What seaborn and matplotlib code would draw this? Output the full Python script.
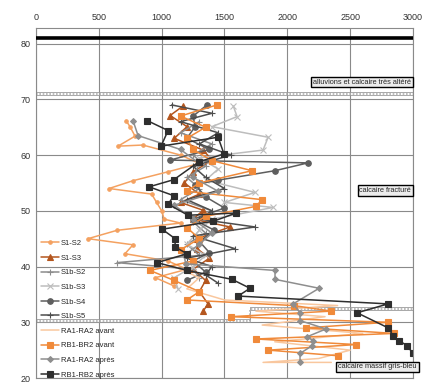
import numpy as np
import pandas as pd
import matplotlib
matplotlib.use("Agg")
import matplotlib.pyplot as plt
import seaborn as sns

# --- données (vitesse en x, cote en y) ---
s1_s2_x = [716, 748, 788, 653, 850, 1150, 1300, 1050, 772, 581, 920, 960, 1000, 1020, 1150, 645, 414, 772, 708, 1050, 1200, 950, 1100]
s1_s2_y = [66.2, 65.1, 63.4, 61.6, 61.8, 60.0, 58.5, 57.0, 55.4, 54.0, 53.0, 51.5, 50.0, 48.5, 47.8, 46.5, 45.0, 43.9, 42.3, 41.0, 39.5, 38.0, 36.5]

s1_s3_x = [1170, 1067, 1202, 1100, 1330, 1401, 1250, 1180, 1300, 1150, 1330, 1250, 1544, 1282, 1282, 1380, 1250, 1350, 1300, 1369, 1330]
s1_s3_y = [68.8, 67.1, 65.1, 63.0, 60.9, 59.1, 57.0, 55.0, 53.0, 51.5, 50.1, 48.5, 47.1, 45.0, 43.2, 41.5, 39.5, 37.5, 35.5, 33.3, 32.0]

s1b_s2_x = [1300, 1150, 1400, 1250, 1350, 1200, 1300, 1150, 1400, 1250, 1350, 1200, 1300, 645, 1250, 1300]
s1b_s2_y = [66.0, 64.0, 62.0, 60.0, 58.0, 56.0, 54.0, 52.0, 50.0, 48.0, 46.0, 44.0, 42.0, 40.7, 39.5, 38.0]

s1b_s3_x = [1570, 1600, 1400, 1847, 1807, 1300, 1450, 1350, 1743, 1500, 1887, 1400, 1300, 1200, 1350, 1250, 1100, 1130]
s1b_s3_y = [68.8, 66.9, 65.1, 63.2, 60.9, 59.5, 57.5, 55.5, 53.3, 51.5, 50.6, 48.5, 46.5, 44.0, 42.0, 40.0, 38.0, 36.0]

s1b_s4_x = [1361, 1250, 1266, 1200, 1380, 1067, 2165, 1902, 1450, 1266, 1350, 1500, 1250, 1420, 1300, 1380, 1250, 1350, 1200]
s1b_s4_y = [69.0, 67.0, 65.1, 63.0, 61.0, 59.1, 58.6, 57.2, 55.5, 54.7, 52.5, 50.5, 48.5, 46.5, 44.5, 42.5, 41.0, 39.0, 37.5]

s1b_s5_x = [1080, 1400, 1150, 1450, 1300, 1550, 1250, 1350, 1500, 1200, 1400, 1300, 1743, 1250, 1584, 1200, 1400, 1350, 1450]
s1b_s5_y = [69.0, 67.5, 66.0, 64.0, 62.0, 60.0, 58.0, 56.0, 54.0, 52.0, 50.0, 48.5, 47.1, 45.5, 43.2, 41.5, 40.0, 38.5, 37.0]

ra_avant_x = [1100, 1300, 1200, 1500, 2400, 1750, 2300, 1800, 2600, 1900, 2500, 2250, 1807, 2350]
ra_avant_y = [40.0, 38.0, 36.0, 34.0, 33.0, 32.0, 31.0, 29.5, 28.0, 26.5, 25.0, 23.5, 22.8, 22.8]

rb_avant_x = [1441, 1150, 1350, 1200, 1250, 1400, 1719, 1300, 1200, 1799, 1750, 1350, 1200, 1300, 1150, 1250, 907, 1100, 1300, 1200, 2050, 2350, 1550, 2800, 2150, 2850, 1750, 2550, 1850, 2400]
rb_avant_y = [69.0, 67.0, 65.0, 63.0, 61.0, 59.0, 57.2, 55.0, 53.5, 52.0, 50.8, 49.0, 47.0, 45.0, 43.0, 41.0, 39.3, 37.5, 35.5, 34.0, 33.0, 32.0, 31.0, 30.0, 29.0, 28.0, 27.0, 26.0, 25.0, 24.0]

ra_apres_x = [772, 812, 1150, 1300, 1250, 1450, 1100, 1250, 1400, 1300, 1180, 1190, 1902, 1902, 2253, 2046, 2101, 2101, 2308, 2157, 2205, 2197, 2101, 2101]
ra_apres_y = [66.2, 63.5, 61.0, 58.5, 56.0, 53.5, 51.0, 48.5, 46.0, 44.0, 42.0, 40.5, 39.3, 37.7, 36.1, 33.3, 31.7, 30.3, 28.8, 27.4, 26.7, 25.8, 24.4, 22.8]

rb_apres_x = [884, 1051, 995, 1449, 1496, 1297, 1098, 900, 1098, 1051, 1210, 1592, 1409, 1003, 1107, 1107, 1202, 963, 1202, 1560, 1703, 1608, 2802, 2555, 2802, 2842, 2889, 2953, 3000]
rb_apres_y = [66.2, 64.4, 61.6, 63.2, 60.2, 58.8, 55.6, 54.3, 52.7, 51.2, 49.2, 49.6, 48.1, 46.7, 45.0, 43.5, 42.3, 40.7, 39.3, 37.7, 36.1, 34.7, 33.3, 31.7, 29.0, 27.6, 26.7, 25.8, 24.4]

# limites des couches
limite_haut_x = [0, 3000]
limite_haut_y = [71.0, 71.0]
limite_bas_x = [0, 1700, 1700, 3000]
limite_bas_y = [30.3, 30.3, 32.4, 32.4]
niveau_sol = 81.0

couches = ["alluvions et calcaire très altéré", "calcaire fracturé", "calcaire massif gris-bleu"]
couches_y = [73.1, 53.6, 22.0]

series = [
    ("S1-S2", s1_s2_x, s1_s2_y, "#F4A160", "o", 2.5),
    ("S1-S3", s1_s3_x, s1_s3_y, "#B4561E", "^", 4.5),
    ("S1b-S2", s1b_s2_x, s1b_s2_y, "#8C8C8C", "+", 4),
    ("S1b-S3", s1b_s3_x, s1b_s3_y, "#BDBDBD", "x", 4),
    ("S1b-S4", s1b_s4_x, s1b_s4_y, "#5E5E5E", "o", 4),
    ("S1b-S5", s1b_s5_x, s1b_s5_y, "#4D4D4D", "+", 4),
    ("RA1-RA2 avant", ra_avant_x, ra_avant_y, "#F9C79E", None, 0),
    ("RB1-BR2 avant", rb_avant_x, rb_avant_y, "#F08A3A", "s", 4.5),
    ("RA1-RA2 après", ra_apres_x, ra_apres_y, "#8E8E8E", "D", 3),
    ("RB1-RB2 après", rb_apres_x, rb_apres_y, "#2E2E2E", "s", 4.5),
]

sns.set_style("white")
plt.rcParams['font.family'] = ['Liberation Sans Narrow', 'Liberation Sans', 'DejaVu Sans']

fig = plt.figure(figsize=(4.27, 3.84), dpi=100)
ax = fig.add_axes([36 / 427, 6 / 384, 377 / 427, 350 / 384])

for nom, xs, ys, couleur, mk, ms in series:
    sns.lineplot(x=xs, y=ys, sort=False, estimator=None, ax=ax, color=couleur,
                 marker=mk, markersize=ms, markeredgecolor=couleur, markeredgewidth=0.8,
                 linewidth=1.1, label=nom)

# limites géologiques
ax.axhline(niveau_sol, color="black", lw=2.6, zorder=5)
for dy in (-0.25, 0.25):
    ax.plot(limite_haut_x, [v + dy for v in limite_haut_y], color="#9a9a9a", lw=0.6, zorder=1)
    ax.plot(limite_bas_x, [v + dy for v in limite_bas_y], color="#9a9a9a", lw=0.6, zorder=1)
ax.plot(limite_haut_x, limite_haut_y, color="#b0b0b0", lw=1.2, ls=(0, (1, 1)), zorder=1)
ax.plot(limite_bas_x, limite_bas_y, color="#b0b0b0", lw=1.2, ls=(0, (1, 1)), zorder=1)

boite = dict(boxstyle="square,pad=0.25", facecolor="#ececec", edgecolor="black", lw=1.0)
ax.text(2985, couches_y[0], couches[0], ha="right", va="center", fontsize=5.3, bbox=boite, zorder=6)
ax.text(2985, couches_y[1], couches[1], ha="right", va="center", fontsize=5.3, bbox=boite, zorder=6)
ax.text(3030, couches_y[2], couches[2], ha="right", va="center", fontsize=5.3, bbox=boite, zorder=6, clip_on=False)

ax.set_xlim(0, 3000)
ax.set_ylim(20, 82.8)
ax.set_xticks(np.arange(0, 3001, 500))
ax.set_yticks(np.arange(20, 81, 10))
ax.xaxis.tick_top()
ax.tick_params(axis="both", labelsize=6.5, length=0, pad=4, colors="#333333")
ax.grid(True, color="#8a8a8a", lw=0.8)
for sp in ax.spines.values():
    sp.set_color("#8a8a8a")
    sp.set_linewidth(0.8)
ax.set_xlabel("")
ax.set_ylabel("")

ax.legend(loc="upper left", bbox_to_anchor=(0.012, 0.395), frameon=False, fontsize=5.5,
          handlelength=2.4, handletextpad=0.3, labelspacing=0.95, borderpad=0, borderaxespad=0)

fig.savefig("out.png", dpi=100)
